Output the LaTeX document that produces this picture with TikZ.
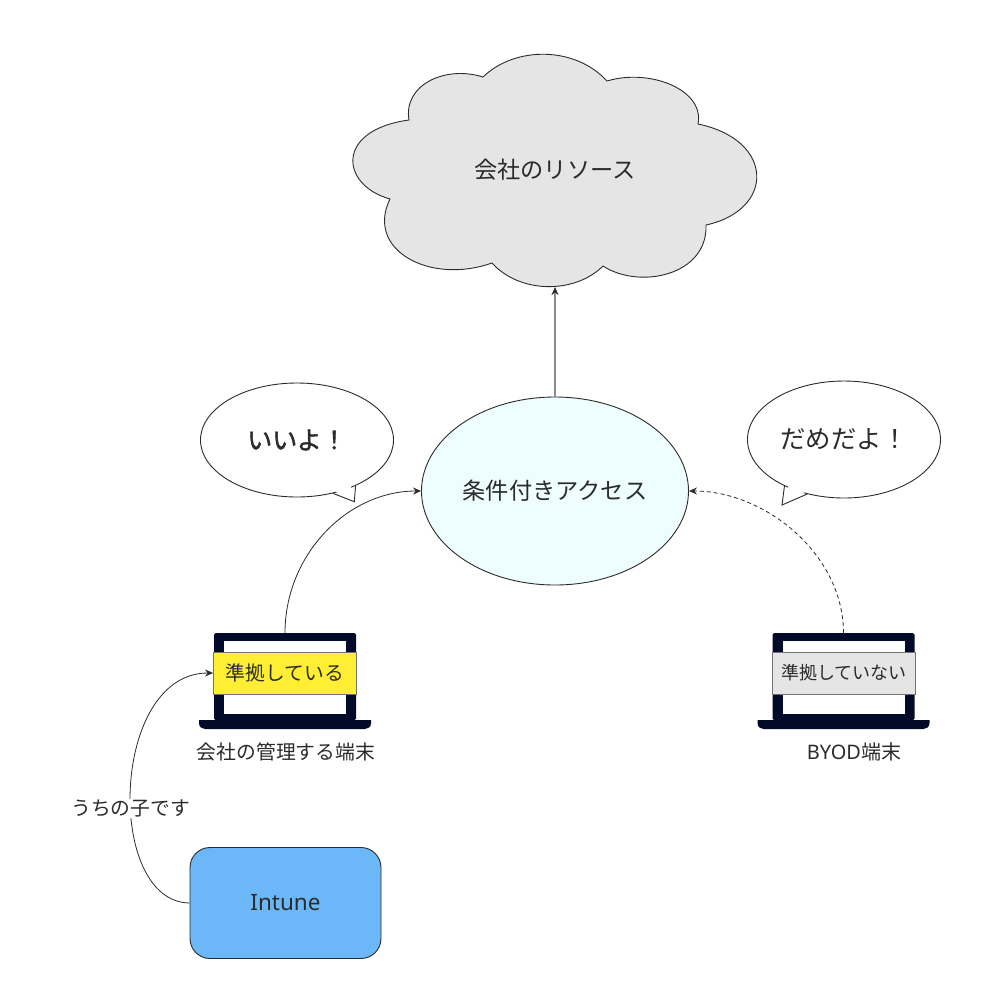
\documentclass[tikz,border=0pt]{standalone}
\usepackage{fontspec}
\setmainfont{Noto Sans}
\newfontfamily\jp{Noto Sans CJK JP}
\newfontfamily\jpheavy[FakeBold=1.5]{Noto Sans CJK JP}
\usetikzlibrary{shapes,arrows.meta,calc}
\definecolor{inkc}{HTML}{2B2B2B}
\definecolor{pcc}{HTML}{020A2A}
\tikzset{
  bubble/.style={draw=inkc, line width=0.9pt, fill=white, ellipse, minimum width=193pt, minimum height=114pt, inner sep=0pt, text=inkc},
  status/.style={draw=black!55, line width=0.9pt, minimum width=143pt, minimum height=42pt, inner sep=0pt, text=inkc},
  conn/.style={draw=inkc, line width=0.8pt, -{Stealth[length=8pt,width=7pt,color=inkc]}},
  big/.style={font=\jp\fontsize{23.2}{27}\selectfont, text=inkc},
  small/.style={font=\jp\fontsize{19.8}{23}\selectfont, text=inkc}
}
\begin{document}
\begin{tikzpicture}[x=1pt, y=-1pt]
  \useasboundingbox (0,0) rectangle (997,997);
  %coordinates
  \coordinate (cloudbottom) at (555,287);
  % Cloud
  \path[draw=inkc, line width=0.9pt, fill=black!10] (409,120) .. controls (403,85) and (445,65) .. (483,77)
    .. controls (515,46) and (575,46) .. (607,81)
    .. controls (650,68) and (705,90) .. (698,124)
    .. controls (775,140) and (775,210) .. (706,225)
    .. controls (708,275) and (640,290) .. (603,266)
    .. controls (575,294) and (520,294) .. (492,263)
    .. controls (430,285) and (365,250) .. (390,199)
    .. controls (340,185) and (335,130) .. (409,120) -- cycle;
  % Nodes
  \node[big](resource) at (555,170) {会社のリソース};
  \node[draw=inkc, line width=0.9pt, fill={rgb,255:red,238;green,253;blue,253}, ellipse, minimum width=267pt, minimum height=188pt, inner sep=0pt, big](access) at (555,491) {条件付きアクセス};
  \node[bubble, font=\jpheavy\fontsize{25}{29}\selectfont](okbubble) at (297,440) {いいよ！};
  \node[bubble, minimum height=117pt, font=\jp\fontsize{25.4}{29}\selectfont](ngbubble) at (844,439.5) {だめだよ！};
  % Bubble tails
  \coordinate (oktip) at (354.3,501.7);
  \coordinate (ngtip) at (782,505);
  \fill[white] ($(okbubble.-38.6)!0.1!(okbubble.center)$) -- (oktip) -- ($(okbubble.-56.4)!0.1!(okbubble.center)$) -- cycle;
  \draw[inkc, line width=0.9pt] (okbubble.-38.6) -- (oktip) -- (okbubble.-56.4);
  \fill[white] ($(ngbubble.218)!0.1!(ngbubble.center)$) -- (ngtip) -- ($(ngbubble.236)!0.1!(ngbubble.center)$) -- cycle;
  \draw[inkc, line width=0.9pt] (ngbubble.218) -- (ngtip) -- (ngbubble.236);
  % Laptops
  \foreach \n/\cx in {pcA/285,pcB/843.5}{
    \fill[pcc, rounded corners=1.5pt] (\cx-71,720) rectangle (\cx+71,633);
    \node[fill=white, minimum width=122pt, minimum height=73pt, inner sep=0pt] at (\cx,677.5) {};
    \node[minimum width=142pt, minimum height=87pt, inner sep=0pt, outer sep=0pt](\n) at (\cx,676.5) {};
    \fill[pcc] (\cx-86,720) -- (\cx+86,720) -- (\cx+86,723) .. controls (\cx+86,727) and (\cx+83,729) .. (\cx+80,729)
      -- (\cx-80,729) .. controls (\cx-83,729) and (\cx-86,727) .. (\cx-86,723) -- cycle;
  }
  \node[status, fill={rgb,255:red,255;green,238;blue,51}, small](statusA) at (285,673) {準拠している};
  \node[status, fill=black!10, font=\jp\fontsize{18}{22}\selectfont](statusB) at (844,673) {準拠していない};
  \node[small](pcAlabel) at (286,752) {会社の管理する端末};
  \node[font=\fontsize{20}{24}\selectfont, text=inkc](pcBlabel) at (854,752) {BYOD{\jp 端末}};
  \node[draw=inkc, line width=0.9pt, fill={rgb,255:red,107;green,183;blue,248}, rounded corners=20pt, minimum width=191pt, minimum height=111pt, inner sep=0pt, font=\fontsize{22.5}{27}\selectfont, text=inkc](intune) at (285.5,903) {Intune};
  % Edges
  \path[conn, draw=black!45, line width=1.4pt] (access.north) -- (cloudbottom);
  \path[conn] (pcA.north) .. controls (285,555) and (347,491) .. (access.west);
  \path[conn, dash pattern=on 4pt off 3pt] (pcB.north) .. controls (843.5,555) and (766,491) .. (access.east);
  \path[conn] (intune.west) .. controls (105,902) and (110,673) .. node[pos=0.44, fill=white, inner sep=1pt, small]{うちの子です} (statusA.west);
\end{tikzpicture}
\end{document}
